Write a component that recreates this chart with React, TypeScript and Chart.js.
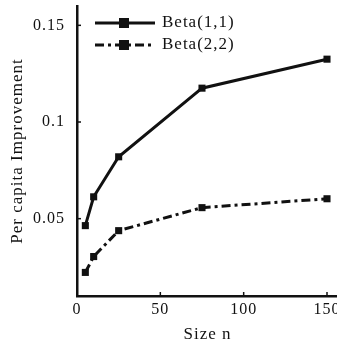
import React, { useEffect, useRef } from "react";
import { Chart, registerables } from "chart.js";

Chart.register(...registerables);

const sizes = [5, 10, 25, 75, 150];
const beta11 = [0.0464, 0.0613, 0.082, 0.1175, 0.1325];
const beta22 = [0.0222, 0.0304, 0.0438, 0.0557, 0.0603];
const seriesNames = ["Beta(1,1)", "Beta(2,2)"];
const xTicks = [0, 50, 100, 150];
const yTicks = [0.05, 0.1, 0.15];

const INK = "#111";
const FONT = "'Liberation Serif', 'DejaVu Serif', serif";
const DASH = [9, 4, 3, 4];
const SPACING = "1px";

export default function App() {
  const ref = useRef<HTMLCanvasElement>(null);
  useEffect(() => {
    const canvas = ref.current!;
    const spacingPlugin = {
      id: "spacing",
      beforeInit(chart: any) {
        chart.ctx.letterSpacing = SPACING;
      },
      beforeUpdate(chart: any) {
        chart.ctx.letterSpacing = SPACING;
      },
      beforeDraw(chart: any) {
        chart.ctx.letterSpacing = SPACING;
      },
    };
    const tickPlugin = {
      id: "inTicks",
      afterDraw(chart: any) {
        const ctx = chart.ctx;
        const xs = chart.scales.x;
        const ys = chart.scales.y;
        const area = chart.chartArea;
        ctx.save();
        ctx.strokeStyle = INK;
        ctx.lineWidth = 1.5;
        xTicks.forEach((v) => {
          const px = xs.getPixelForValue(v);
          ctx.beginPath();
          ctx.moveTo(px, area.bottom);
          ctx.lineTo(px, area.bottom - 4);
          ctx.stroke();
        });
        yTicks.forEach((v) => {
          const py = ys.getPixelForValue(v);
          ctx.beginPath();
          ctx.moveTo(area.left, py);
          ctx.lineTo(area.left + 4, py);
          ctx.stroke();
        });
        // legend
        const rows = [
          { y: 23, dash: [] as number[] },
          { y: 45, dash: DASH },
        ];
        rows.forEach((r, i) => {
          ctx.strokeStyle = INK;
          ctx.lineWidth = 3;
          ctx.setLineDash(r.dash);
          ctx.beginPath();
          ctx.moveTo(95, r.y);
          ctx.lineTo(155, r.y);
          ctx.stroke();
          ctx.setLineDash([]);
          ctx.fillStyle = INK;
          ctx.fillRect(124 - 5, r.y - 5, 10, 10);
          ctx.font = "17px " + FONT;
          ctx.textBaseline = "middle";
          ctx.textAlign = "left";
          ctx.fillText(seriesNames[i], 162, r.y);
        });
        ctx.restore();
      },
    };
    const chart = new Chart(canvas, {
      type: "line",
      data: {
        datasets: [
          {
            label: seriesNames[0],
            data: sizes.map((x, i) => ({ x, y: beta11[i] })),
            borderColor: INK,
            backgroundColor: INK,
            borderWidth: 3,
            pointStyle: "rect",
            pointRadius: 5,
            pointBorderWidth: 0,
            tension: 0,
          },
          {
            label: seriesNames[1],
            data: sizes.map((x, i) => ({ x, y: beta22[i] })),
            borderColor: INK,
            backgroundColor: INK,
            borderWidth: 3,
            borderDash: DASH,
            pointStyle: "rect",
            pointRadius: 5,
            pointBorderWidth: 0,
            tension: 0,
          },
        ],
      },
      options: {
        animation: false,
        responsive: false,
        maintainAspectRatio: false,
        layout: { padding: { top: 6, left: 0, right: 0, bottom: 0 } },
        plugins: { legend: { display: false }, tooltip: { enabled: false } },
        scales: {
          x: {
            type: "linear",
            min: 0,
            max: 156.6,
            afterBuildTicks: (s: any) => {
              s.ticks = xTicks.map((v) => ({ value: v }));
            },
            afterFit: (s: any) => {
              s.height = 49;
              s.paddingLeft = 0;
              s.paddingRight = 0;
            },
            grid: { display: false, drawTicks: false },
            border: { display: true, color: INK, width: 2.5 },
            ticks: {
              color: INK,
              font: { family: FONT, size: 16 },
              padding: 4,
              maxRotation: 0,
              autoSkip: false,
            },
            title: {
              display: true,
              text: "Size n",
              color: INK,
              font: { family: FONT, size: 17 },
              padding: { top: 2, bottom: 0 },
            },
          },
          y: {
            type: "linear",
            min: 0.01,
            max: 0.16,
            afterBuildTicks: (s: any) => {
              s.ticks = yTicks.map((v) => ({ value: v }));
            },
            afterFit: (s: any) => {
              s.width = 77;
              s.paddingTop = 0;
              s.paddingBottom = 0;
            },
            grid: { display: false, drawTicks: false },
            border: { display: true, color: INK, width: 2.5 },
            ticks: {
              color: INK,
              font: { family: FONT, size: 16 },
              padding: 12,
              callback: (v: any) => String(Number(v)),
            },
            title: {
              display: true,
              text: "Per capita Improvement",
              color: INK,
              font: { family: FONT, size: 17 },
              padding: { top: 7, bottom: 0 },
            },
          },
        },
      },
      plugins: [spacingPlugin, tickPlugin],
    } as any);
    return () => chart.destroy();
  }, []);
  return (
    <div style={{ position: "fixed", left: 0, top: 0, width: 337, height: 345, overflow: "hidden", background: "#fff" }}>
      <div style={{ width: 343, height: 345 }}>
        <canvas ref={ref} width={343} height={345} style={{ display: "block" }} />
      </div>
    </div>
  );
}
